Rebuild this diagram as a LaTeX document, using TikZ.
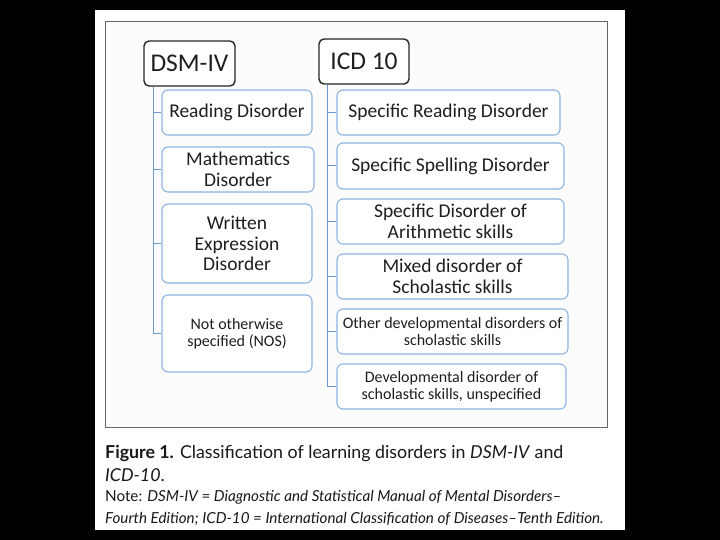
\documentclass[tikz,border=0pt]{standalone}
\usepackage{fontspec}
\setmainfont{Carlito}
\newfontfamily\capfont{Lato}
\usetikzlibrary{calc}
\definecolor{boxblue}{HTML}{8DB3E2}
\definecolor{lineblue}{HTML}{6F97CB}
\definecolor{txt}{HTML}{1F1F1F}
\tikzstyle{hd}=[draw=black!85, line width=1.4pt, rounded corners=5pt, fill=white, inner sep=0, text=txt, font=\fontsize{25.5}{30}\selectfont]
\tikzstyle{ch}=[draw=boxblue, line width=1.1pt, rounded corners=6pt, fill=white, inner sep=0, align=center, text=txt, font=\fontsize{19.5}{20.7}\selectfont]
\tikzstyle{sm}=[font=\fontsize{16}{17.3}\selectfont]
\tikzstyle{br}=[draw=lineblue, line width=1pt]
\tikzstyle{captxt}=[anchor=base west, inner sep=0, text=black!90]

\begin{document}
\begin{tikzpicture}[x=1pt, y=-1pt]
\fill[black] (0,0) rectangle (720,540);
\fill[white] (95,10) rectangle (625,530);
\draw[black!60, line width=1pt, fill=black!1] (105,22) rectangle (607,427);
% DSM-IV
\node at (189.5,63.5)[hd, minimum width=91pt, minimum height=45pt](dsm){DSM-IV};
\node at (237,112.5)[ch, minimum width=150pt, minimum height=45pt](rd){Reading Disorder};
\node at (238,169.5)[ch, minimum width=152pt, minimum height=45pt](md){Mathematics\\Disorder};
\node at (237,243.5)[ch, minimum width=150pt, minimum height=79pt](we){Written\\Expression\\Disorder};
\node at (237,333.5)[ch, sm, minimum width=150pt, minimum height=77pt](nos){Not otherwise\\specified (NOS)};
% ICD 10
\node at (364,61.5)[hd, minimum width=90pt, minimum height=45pt](icd){ICD 10};
\node at (448.5,112.5)[ch, minimum width=223pt, minimum height=45pt](sr){Specific Reading Disorder};
\node at (450.5,166)[ch, minimum width=227pt, minimum height=46pt](ss){Specific Spelling Disorder};
\node at (450.5,221.5)[ch, minimum width=227pt, minimum height=45pt](sa){Specific Disorder of\\Arithmetic skills};
\node at (452.5,276.5)[ch, minimum width=231pt, minimum height=45pt](ms){Mixed disorder of\\Scholastic skills};
\node at (452.5,331.5)[ch, sm, minimum width=231pt, minimum height=45pt](od){Other developmental disorders of\\scholastic skills};
\node at (451.5,386.5)[ch, sm, minimum width=229pt, minimum height=45pt](dd){Developmental disorder of\\scholastic skills, unspecified};
% branches
\coordinate (dt) at ($(dsm.south west)+(10,0)$);
\coordinate (it) at ($(icd.south west)+(9,0)$);
\foreach \c in {rd,md,we,nos} {\draw[br] (dt) |- (\c.west);}
\foreach \c in {sr,ss,sa,ms,od,dd} {\draw[br] (it) |- (\c.west);}
% caption
\node at (105,458)[captxt, font=\capfont\fontsize{17.8}{20}\selectfont](c1){\textbf{Figure 1.} Classification of learning disorders in \textit{DSM-IV} and};
\node at (105,481)[captxt, font=\capfont\fontsize{17.8}{20}\selectfont](c2){\textit{ICD-10}.};
\node at (105,501)[captxt, font=\capfont\fontsize{15.2}{17}\selectfont](c3){Note: \textit{DSM-IV = Diagnostic and Statistical Manual of Mental Disorders–}};
\node at (105,523)[captxt, font=\capfont\fontsize{15.2}{17}\selectfont](c4){\textit{Fourth Edition; ICD-10 = International Classification of Diseases–Tenth Edition.}};
\end{tikzpicture}
\end{document}
